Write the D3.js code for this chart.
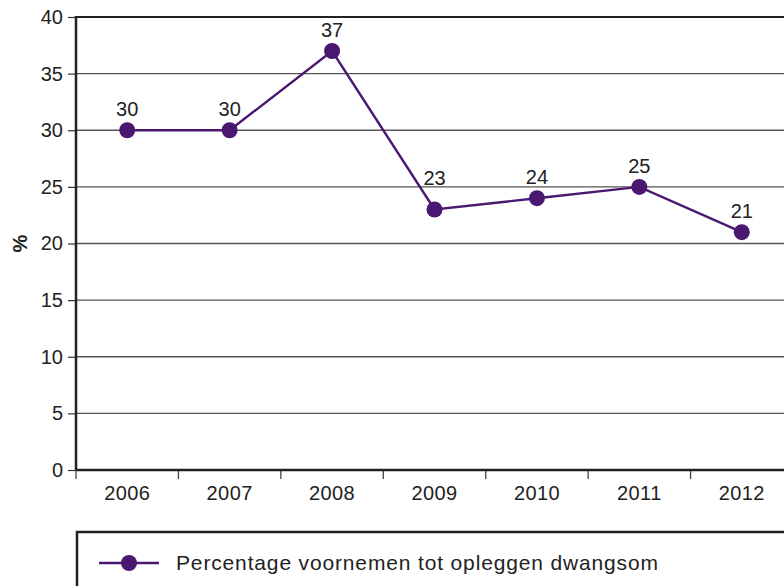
<!DOCTYPE html>
<html>
<head>
<meta charset="utf-8">
<script src="https://cdn.jsdelivr.net/npm/d3@7"></script>
<style>
  body { margin: 0; background: #fff; }
  svg { display: block; font-family: Arial, "Liberation Sans", sans-serif; }
</style>
</head>
<body>
<svg id="chart" width="784" height="586"></svg>
<script>
const years = ["2006", "2007", "2008", "2009", "2010", "2011", "2012"];
const values = [30, 30, 37, 23, 24, 25, 21];
const yTicks = [0, 5, 10, 15, 20, 25, 30, 35, 40];
const seriesName = "Percentage voornemen tot opleggen dwangsom";

const purple = "#4a1870";
const ink = "#222";
const margin = { top: 17, left: 76 };
const plotW = 717;   // runs a little past the window, like the original
const plotH = 453;

const svg = d3.select("#chart");
const chart = svg.append("g")
  .attr("transform", `translate(${margin.left}, ${margin.top})`);

const x = d3.scaleBand().domain(years).range([0, plotW]);
const y = d3.scaleLinear().domain([0, 40]).range([plotH, 0]);

// grid lines
chart.selectAll("line.grid")
  .data(yTicks.filter(d => d > 0))
  .join("line")
    .attr("class", "grid")
    .attr("x1", 0).attr("x2", plotW)
    .attr("y1", d => y(d)).attr("y2", d => y(d))
    .attr("stroke", d => d === 40 ? ink : "#555")
    .attr("stroke-width", d => d === 40 ? 2.2 : 1.3);

// y axis
const yAxis = chart.append("g")
  .call(d3.axisLeft(y).tickValues(yTicks).tickSize(8).tickPadding(5));
yAxis.select(".domain").remove();
yAxis.selectAll(".tick line").attr("stroke", "#333").attr("stroke-width", 1.2);
yAxis.selectAll("text").attr("fill", ink).style("font-size", "20px");
chart.append("line")
  .attr("x1", 0).attr("x2", 0).attr("y1", -1).attr("y2", plotH + 1)
  .attr("stroke", ink).attr("stroke-width", 2.5);

// x axis
const xAxis = chart.append("g")
  .attr("transform", `translate(0, ${plotH})`)
  .call(d3.axisBottom(x).tickSize(0).tickPadding(16));
xAxis.select(".domain").remove();
xAxis.selectAll("text").attr("fill", ink)
  .style("font-size", "20px").style("letter-spacing", "0.4px");
chart.append("g")
  .selectAll("line")
  .data(years)
  .join("line")
    .attr("x1", d => x(d)).attr("x2", d => x(d))
    .attr("y1", plotH).attr("y2", plotH + 9)
    .attr("stroke", "#444").attr("stroke-width", 1.3);
chart.append("line")
  .attr("x1", 0).attr("x2", plotW).attr("y1", plotH).attr("y2", plotH)
  .attr("stroke", ink).attr("stroke-width", 2.5);

svg.append("text")
  .attr("transform", `translate(22, ${margin.top + y(20)}) rotate(-90)`)
  .attr("text-anchor", "middle")
  .attr("dominant-baseline", "middle")
  .attr("font-weight", "bold")
  .attr("fill", ink)
  .style("font-size", "20px")
  .text("%");

// series
const cx = d => x(d) + x.bandwidth() / 2;
const pts = years.map((yr, i) => ({ yr: yr, v: values[i] }));

chart.append("path")
  .datum(pts)
  .attr("fill", "none")
  .attr("stroke", purple)
  .attr("stroke-width", 2.4)
  .attr("d", d3.line().x(d => cx(d.yr)).y(d => y(d.v)));

chart.selectAll("circle.pt")
  .data(pts)
  .join("circle")
    .attr("class", "pt")
    .attr("cx", d => cx(d.yr))
    .attr("cy", d => y(d.v))
    .attr("r", 8)
    .attr("fill", purple);

// the 2009 label sits higher, clear of the falling line
chart.selectAll("text.lbl")
  .data(pts)
  .join("text")
    .attr("class", "lbl")
    .attr("x", d => cx(d.yr))
    .attr("y", d => y(d.v) - (d.yr === "2009" ? 25 : 14))
    .attr("text-anchor", "middle")
    .attr("fill", ink)
    .style("font-size", "20px")
    .text(d => d.v);

// legend
const legend = svg.append("g");
legend.append("rect")
  .attr("x", 77).attr("y", 532)
  .attr("width", 720).attr("height", 80)
  .attr("fill", "none")
  .attr("stroke", ink)
  .attr("stroke-width", 2.5);
legend.append("line")
  .attr("x1", 99).attr("x2", 159).attr("y1", 563).attr("y2", 563)
  .attr("stroke", purple).attr("stroke-width", 2.4);
legend.append("circle")
  .attr("cx", 129).attr("cy", 563).attr("r", 8).attr("fill", purple);
legend.append("text")
  .attr("x", 176).attr("y", 570)
  .attr("fill", ink)
  .style("font-size", "21px")
  .style("letter-spacing", "0.85px")
  .text(seriesName);
</script>
</body>
</html>
